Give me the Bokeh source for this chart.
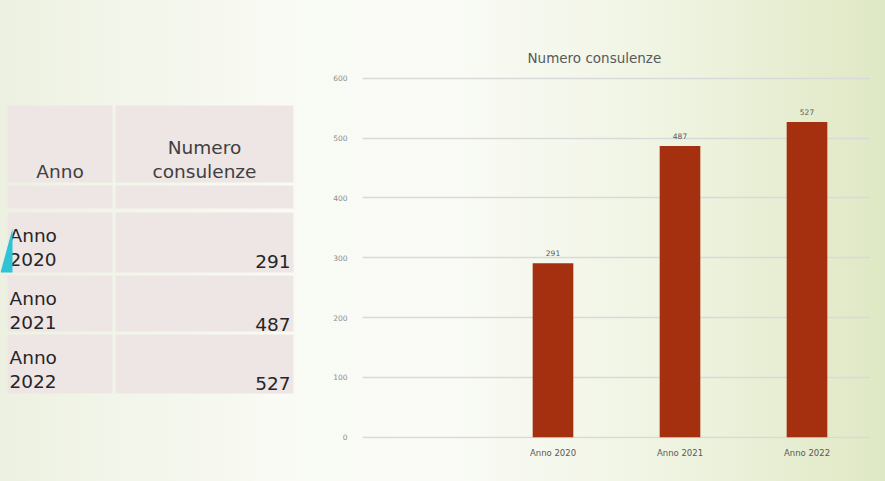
from bokeh.plotting import figure
from bokeh.models import FactorRange, Range1d, FixedTicker, ColumnDataSource
from bokeh.layouts import row
from bokeh.core.properties import value
from bokeh.embed import file_html
from bokeh.resources import INLINE

# ---- data ----
categories = ["Anno 2020", "Anno 2021", "Anno 2022"]
consulenze = [291, 487, 527]
y_ticks = [0, 100, 200, 300, 400, 500, 600]
title_text = "Numero consulenze"
header_col1 = "Anno"
header_col2 = ["Numero", "consulenze"]

FONT = "DejaVu Sans"
BAR = "#A5300F"
CELL = "#EEE5E5"

H = 481
TOP, BOTTOM = 76, 43          # shared frame borders (rows align frames)
FRAME_Y0, FRAME_Y1 = TOP, H - BOTTOM

# ---- left: table ----
W1 = 304
t = figure(width=W1, height=H, x_range=Range1d(0, W1), y_range=Range1d(FRAME_Y1, FRAME_Y0),
           output_backend="svg", toolbar_location=None,
           min_border_left=0, min_border_right=0,
           min_border_top=TOP, min_border_bottom=BOTTOM)
t.axis.visible = False
t.grid.visible = False
t.outline_line_color = None
t.background_fill_alpha = 0
t.border_fill_alpha = 0

# table geometry (layout, screen px)
col_x = [(7, 112), (115, 293)]
row_y = [(105, 182), (185, 208), (212, 272), (275, 331), (334, 393)]
xs, ys, ws, hs = [], [], [], []
for (y0, y1) in row_y:
    for (x0, x1) in col_x:
        xs.append((x0 + x1) / 2); ys.append((y0 + y1) / 2)
        ws.append(x1 - x0); hs.append(y1 - y0)
t.rect(x=xs, y=ys, width=ws, height=hs, fill_color=CELL, line_color=None)

FS = "18.5px"
# header
t.text(x=[(col_x[0][0] + col_x[0][1]) / 2], y=[171], text=[header_col1],
       text_align="center", text_baseline="middle", text_font=value(FONT),
       text_font_size=FS, text_color="#404040")
t.text(x=[(col_x[1][0] + col_x[1][1]) / 2] * 2, y=[147, 171], text=header_col2,
       text_align="center", text_baseline="middle", text_font=value(FONT),
       text_font_size=FS, text_color="#404040")

# rows
first = [c.split(" ")[0] for c in categories]
second = [c.split(" ")[1] for c in categories]
row_top = [r[0] for r in row_y[2:]]
src = ColumnDataSource(dict(
    x=[9] * 3, y1=[y + 23 for y in row_top], y2=[y + 47 for y in row_top],
    a=first, b=second, vx=[col_x[1][1] - 3] * 3, vy=[y + 49 for y in row_top],
    v=[str(v) for v in consulenze]))
for col, ycol, align in (("a", "y1", "left"), ("b", "y2", "left"), ("v", "vy", "right")):
    t.text(x="vx" if col == "v" else "x", y=ycol, text=col, source=src,
           text_align=align, text_baseline="middle", text_font=value(FONT),
           text_font_size=FS, text_color="#262626")

# decorative cyan triangle (slide ornament)
t.patch(x=[0, 12, 12, 0], y=[272, 228, 272, 272], fill_color="#2EC4D6", line_color=None)

# ---- right: bar chart ----
W2 = 885 - W1
factors = [" "] + categories
p = figure(width=W2, height=H, x_range=FactorRange(factors=factors),
           y_range=Range1d(-2, 603), output_backend="svg", toolbar_location=None,
           min_border_left=58, min_border_right=15, min_border_top=TOP,
           min_border_bottom=BOTTOM, title=title_text)
p.background_fill_alpha = 0
p.border_fill_alpha = 0
p.outline_line_color = None
p.title.align = "left"
p.title.offset = 165
p.title.standoff = 21
p.title.text_font = FONT
p.title.text_font_size = "13.5px"
p.title.text_font_style = "normal"
p.title.text_color = "#595959"

p.yaxis.ticker = FixedTicker(ticks=y_ticks)
p.yaxis.axis_line_color = None
p.yaxis.major_tick_line_color = None
p.yaxis.minor_tick_line_color = None
p.yaxis.major_label_text_font = FONT
p.yaxis.major_label_text_font_size = "7.5px"
p.yaxis.major_label_text_color = "#8C8C8C"
p.yaxis.major_label_standoff = 9

p.xaxis.axis_line_color = None
p.xaxis.major_tick_line_color = None
p.xaxis.major_label_text_font = FONT
p.xaxis.major_label_text_font_size = "8.5px"
p.xaxis.major_label_text_color = "#595959"
p.xaxis.major_label_standoff = 3

p.xgrid.grid_line_color = None
p.ygrid.grid_line_color = "#D9D9D9"
p.ygrid.grid_line_width = 1.5

bsrc = ColumnDataSource(dict(cat=categories, val=consulenze, lbl=[str(v) for v in consulenze]))
p.vbar(x="cat", top="val", width=0.32, source=bsrc, fill_color=BAR, line_color=None)
p.text(x="cat", y="val", text="lbl", source=bsrc, y_offset=-7, text_align="center",
       text_baseline="bottom", text_font=value(FONT), text_font_size="7.5px",
       text_color="#595959")

layout = row(t, p, styles={"background": "linear-gradient(to right, #edf1e1 0%, #f8faf3 30%, #fafbf7 50%, #eef3df 78%, #dfe8c4 100%)"})

open("out.html", "w").write(file_html(layout, INLINE))
